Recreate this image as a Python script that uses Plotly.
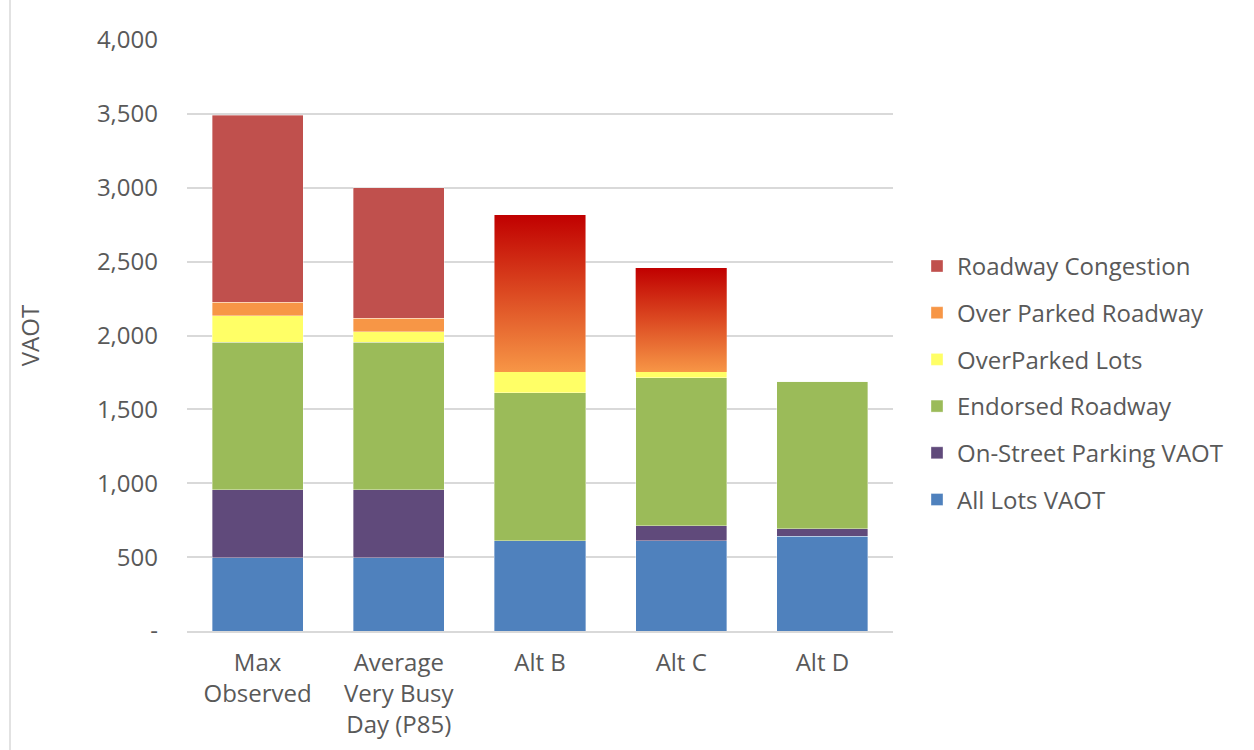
import plotly.graph_objects as go

# Scenario categories and stacked VAOT components
categories = ["Max<br>Observed", "Average<br>Very Busy<br>Day (P85)", "Alt B", "Alt C", "Alt D"]
all_lots = [495, 495, 611, 611, 641]
on_street = [460, 460, 0, 102, 51]
endorsed = [1000, 1000, 1000, 1000, 1000]
overparked_lots = [180, 69, 142, 40, 0]
over_parked_roadway = [90, 92, 0, 0, 0]
congestion = [1265, 884, 1063, 704, 0]
# scenarios whose congestion segment is drawn with a shaded fill
gradient_bars = [False, False, True, True, False]

y_ticks = [0, 500, 1000, 1500, 2000, 2500, 3000, 3500, 4000]
y_tick_text = ["-", "500", "1,000", "1,500", "2,000", "2,500", "3,000", "3,500", "4,000"]

FONT = "Open Sans"
TEXT = "#595959"
FS = 24
BAR_W = 0.645

series = [
    ("All Lots VAOT", all_lots, "#4F81BD"),
    ("On-Street Parking VAOT", on_street, "#604A7B"),
    ("Endorsed Roadway", endorsed, "#9BBB59"),
    ("OverParked Lots", overparked_lots, "#FFFF66"),
    ("Over Parked Roadway", over_parked_roadway, "#F79646"),
    ("Roadway Congestion", congestion, "#C0504D"),
]

x = list(range(len(categories)))
fig = go.Figure()

for i, (name, vals, color) in enumerate(series):
    if name == "Roadway Congestion":
        colors = ["rgba(0,0,0,0)" if g else color for g in gradient_bars]
    else:
        colors = color
    fig.add_trace(go.Bar(
        x=x, y=vals, name=name, width=BAR_W,
        marker=dict(color=colors, line=dict(color="rgba(255,255,255,0.6)", width=0.6)),
        legendgroup=name, legendrank=len(series) - i,
    ))

# shaded congestion segments, positioned from the stacked totals
below = [a + b + c + d + e for a, b, c, d, e in
         zip(all_lots, on_street, endorsed, overparked_lots, over_parked_roadway)]
for xi, base, val, g in zip(x, below, congestion, gradient_bars):
    if not g:
        continue
    x0, x1 = xi - BAR_W / 2, xi + BAR_W / 2
    fig.add_trace(go.Scatter(
        x=[x0, x1, x1, x0, x0], y=[base, base, base + val, base + val, base],
        mode="lines", line=dict(width=0), fill="toself",
        fillgradient=dict(type="vertical",
                          colorscale=[[0, "#F79646"], [0.5, "#DC4A22"], [1, "#C00000"]]),
        showlegend=False, hoverinfo="skip",
    ))

fig.update_layout(
    width=1254, height=750,
    margin=dict(l=187, r=361, t=40, b=119),
    plot_bgcolor="white", paper_bgcolor="white",
    barmode="stack",
    font=dict(family=FONT, size=FS, color=TEXT),
    legend=dict(
        x=1.034, y=0.655, xanchor="left", yanchor="top",
        traceorder="grouped", tracegroupgap=12.5,
        font=dict(family=FONT, size=FS, color=TEXT),
        itemwidth=30,
    ),
    xaxis=dict(
        range=[-0.5, len(categories) - 0.5],
        tickvals=x, ticktext=categories,
        showgrid=False, zeroline=False,
        showline=True, linecolor="#D9D9D9", linewidth=1.5,
        ticks="", tickfont=dict(size=FS, color=TEXT),
        ticklabelstandoff=9, automargin=False,
    ),
    yaxis=dict(
        range=[0, 4000], tickvals=y_ticks, ticktext=y_tick_text,
        showgrid=True, gridcolor="#D9D9D9", gridwidth=1.5,
        zeroline=False, showline=False, ticks="",
        tickfont=dict(size=FS, color=TEXT),
        ticklabelstandoff=28, automargin=False,
        title=dict(text="VAOT", font=dict(size=FS, color=TEXT), standoff=50),
    ),
    shapes=[dict(type="line", xref="paper", yref="paper",
                 x0=-0.2507, x1=-0.2507, y0=-0.21, y1=1.08,
                 line=dict(color="#D9D9D9", width=1.5))],
)

fig.write_html("out.html")
